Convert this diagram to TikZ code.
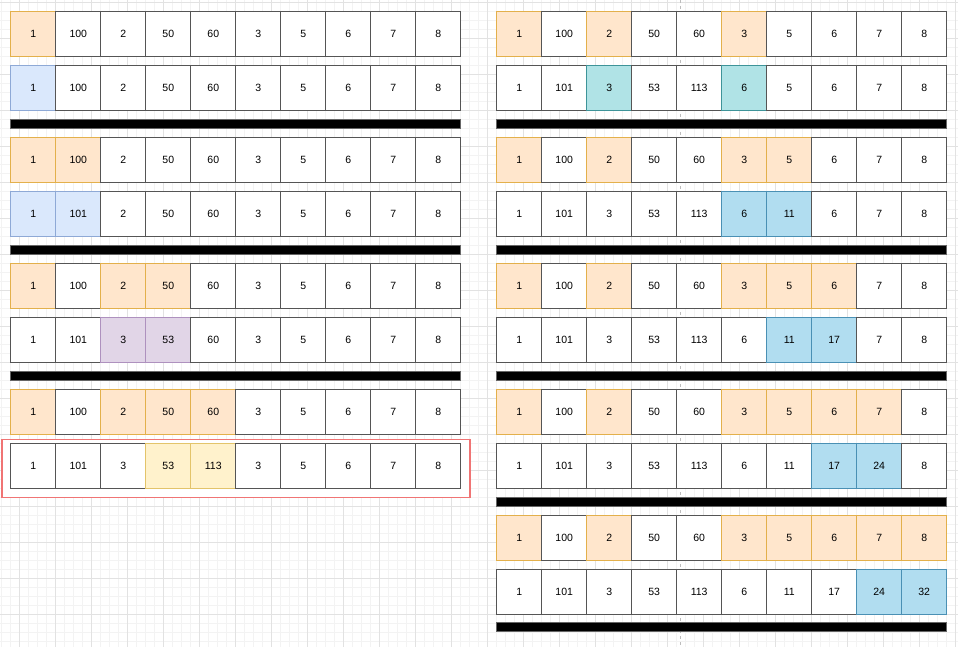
\documentclass[tikz,border=0pt]{standalone}
\usepackage{fontspec}
\setmainfont{Liberation Sans}
\definecolor{gridminor}{HTML}{F3F3F3}
\definecolor{gridmajor}{HTML}{E2E2E2}
\definecolor{pagebrk}{HTML}{BDBDBD}
\definecolor{wD}{HTML}{555555}
\definecolor{oF}{HTML}{FFE6CC}
\definecolor{oD}{HTML}{E3B04B}
\definecolor{bF}{HTML}{DAE8FC}
\definecolor{bD}{HTML}{8EA9D6}
\definecolor{pF}{HTML}{E1D5E7}
\definecolor{pD}{HTML}{AE91BE}
\definecolor{yF}{HTML}{FFF2CC}
\definecolor{yD}{HTML}{E3C46A}
\definecolor{tF}{HTML}{B0E3E6}
\definecolor{tD}{HTML}{3E9499}
\definecolor{lF}{HTML}{B1DDF0}
\definecolor{lD}{HTML}{4A90B4}
\definecolor{redD}{HTML}{F07474}
\definecolor{barD}{HTML}{666666}
\tikzset{
  cell/.style={rectangle,minimum width=45pt,minimum height=45pt,inner sep=0pt,
    line width=1.2pt,font=\fontsize{10.5}{12}\selectfont,text=black},
  cW/.style={fill=white,draw=wD},
  cO/.style={fill=oF,draw=oD},
  cB/.style={fill=bF,draw=bD},
  cP/.style={fill=pF,draw=pD},
  cY/.style={fill=yF,draw=yD},
  cT/.style={fill=tF,draw=tD},
  cL/.style={fill=lF,draw=lD},
  bar/.style={rectangle,minimum width=450pt,minimum height=9pt,inner sep=0pt,
    fill=black,draw=barD,line width=1.2pt},
  hilite/.style={rectangle,minimum width=468pt,minimum height=58pt,inner sep=0pt,
    draw=redD,fill=white,line width=1.5pt}
}
\newcommand\cellrow[4]{%
  \foreach \v/\s [count=\i] in {#4} {%
    \node[cell,\s] (#1c\i) at ({#2+22.5+45*(\i-1)},{#3+22.5}) {\v};}}
\begin{document}
\begin{tikzpicture}[x=1pt,y=-1pt]
\useasboundingbox (0,0) rectangle (958,647);
\fill[white] (0,0) rectangle (958,647);
% grid
\foreach \k in {0,...,106} \draw[gridminor,line width=0.8pt] ({1.3+9*\k},0) -- ({1.3+9*\k},647);
\foreach \k in {0,...,71} \draw[gridminor,line width=0.8pt] (0,{2+9*\k}) -- (958,{2+9*\k});
\foreach \k in {0,...,26} \draw[gridmajor,line width=0.8pt] ({19.3+36*\k},0) -- ({19.3+36*\k},647);
\foreach \k in {0,...,17} \draw[gridmajor,line width=0.8pt] (0,{2+36*\k}) -- (958,{2+36*\k});
\draw[pagebrk,line width=0.8pt,dash pattern=on 3pt off 3pt] (680,0) -- (680,647);
% highlight box
\node[hilite] (hl) at (235.9,468.5) {};
% left column
\cellrow{L1}{10.8}{11.5}{1/cO,100/cW,2/cW,50/cW,60/cW,3/cW,5/cW,6/cW,7/cW,8/cW}
\cellrow{L2}{10.8}{65.5}{1/cB,100/cW,2/cW,50/cW,60/cW,3/cW,5/cW,6/cW,7/cW,8/cW}
\node[bar] (Lb1) at (235.8,124) {};
\cellrow{L3}{10.8}{137.5}{1/cO,100/cO,2/cW,50/cW,60/cW,3/cW,5/cW,6/cW,7/cW,8/cW}
\cellrow{L4}{10.8}{191.5}{1/cB,101/cB,2/cW,50/cW,60/cW,3/cW,5/cW,6/cW,7/cW,8/cW}
\node[bar] (Lb2) at (235.8,250) {};
\cellrow{L5}{10.8}{263.5}{1/cO,100/cW,2/cO,50/cO,60/cW,3/cW,5/cW,6/cW,7/cW,8/cW}
\cellrow{L6}{10.8}{317.5}{1/cW,101/cW,3/cP,53/cP,60/cW,3/cW,5/cW,6/cW,7/cW,8/cW}
\node[bar] (Lb3) at (235.8,376) {};
\cellrow{L7}{10.8}{389.5}{1/cO,100/cW,2/cO,50/cO,60/cO,3/cW,5/cW,6/cW,7/cW,8/cW}
\cellrow{L8}{10.8}{443.5}{1/cW,101/cW,3/cW,53/cY,113/cY,3/cW,5/cW,6/cW,7/cW,8/cW}
% right column
\cellrow{R1}{496.7}{11.5}{1/cO,100/cW,2/cO,50/cW,60/cW,3/cO,5/cW,6/cW,7/cW,8/cW}
\cellrow{R2}{496.7}{65.5}{1/cW,101/cW,3/cT,53/cW,113/cW,6/cT,5/cW,6/cW,7/cW,8/cW}
\node[bar] (Rb1) at (721.7,124) {};
\cellrow{R3}{496.7}{137.5}{1/cO,100/cW,2/cO,50/cW,60/cW,3/cO,5/cO,6/cW,7/cW,8/cW}
\cellrow{R4}{496.7}{191.5}{1/cW,101/cW,3/cW,53/cW,113/cW,6/cL,11/cL,6/cW,7/cW,8/cW}
\node[bar] (Rb2) at (721.7,250) {};
\cellrow{R5}{496.7}{263.5}{1/cO,100/cW,2/cO,50/cW,60/cW,3/cO,5/cO,6/cO,7/cW,8/cW}
\cellrow{R6}{496.7}{317.5}{1/cW,101/cW,3/cW,53/cW,113/cW,6/cW,11/cL,17/cL,7/cW,8/cW}
\node[bar] (Rb3) at (721.7,376) {};
\cellrow{R7}{496.7}{389.5}{1/cO,100/cW,2/cO,50/cW,60/cW,3/cO,5/cO,6/cO,7/cO,8/cW}
\cellrow{R8}{496.7}{443.5}{1/cW,101/cW,3/cW,53/cW,113/cW,6/cW,11/cW,17/cL,24/cL,8/cW}
\node[bar] (Rb4) at (721.7,502) {};
\cellrow{R9}{496.7}{515.5}{1/cO,100/cW,2/cO,50/cW,60/cW,3/cO,5/cO,6/cO,7/cO,8/cO}
\cellrow{R10}{496.7}{569.5}{1/cW,101/cW,3/cW,53/cW,113/cW,6/cW,11/cW,17/cW,24/cL,32/cL}
\node[bar] (Rb5) at (721.7,627.2) {};
\end{tikzpicture}
\end{document}
